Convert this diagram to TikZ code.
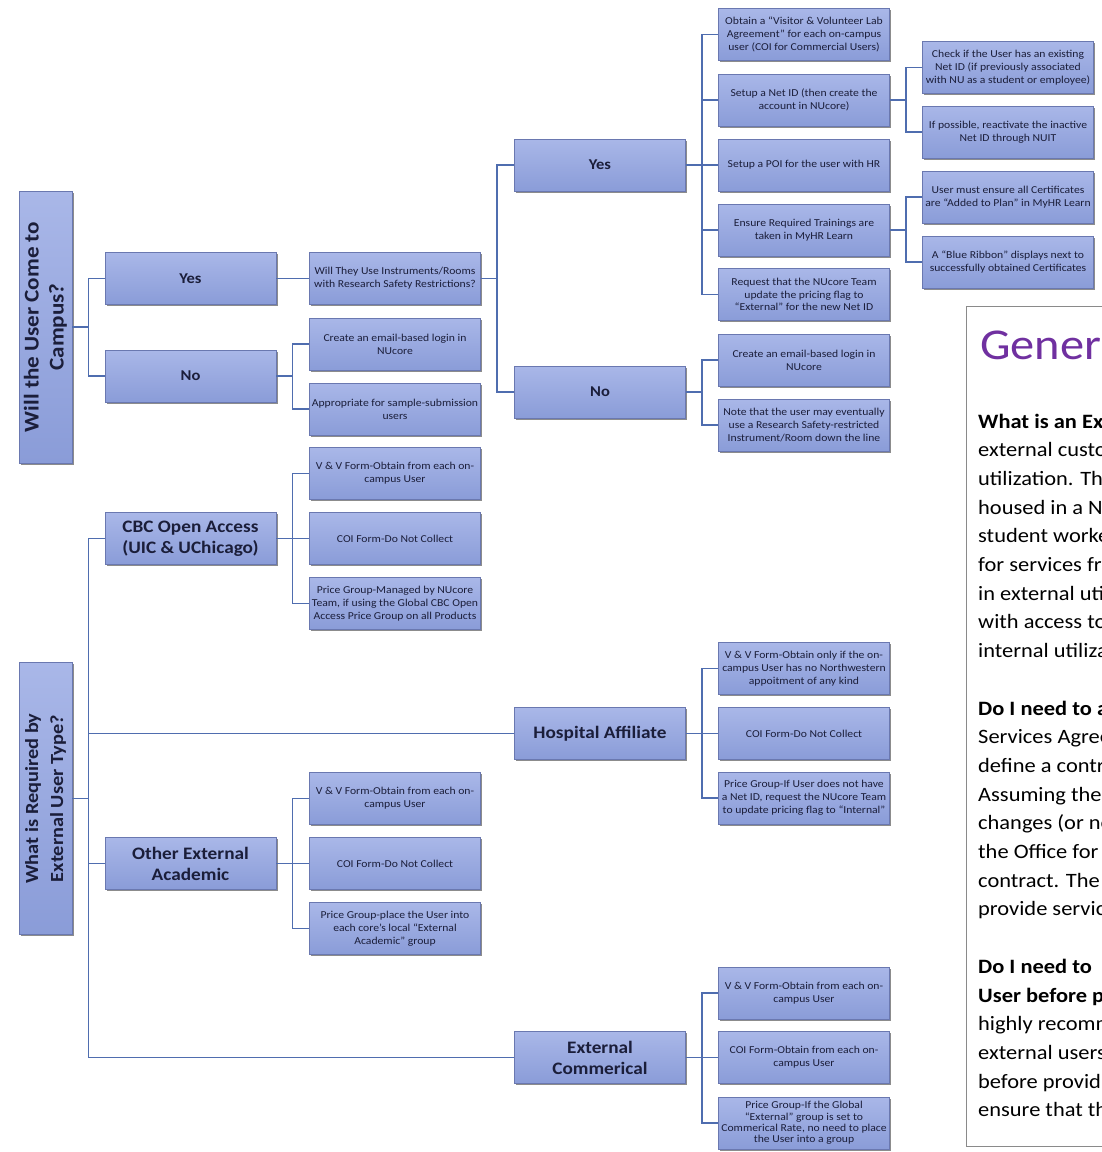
\documentclass[tikz,border=0pt]{standalone}
\usepackage{fontspec}
\setmainfont{Carlito}[FakeStretch=1.1]
\usetikzlibrary{shadows}
\definecolor{boxtop}{HTML}{A9B7E8}
\definecolor{boxbot}{HTML}{8A9CD8}
\definecolor{boxline}{HTML}{6A78B0}
\definecolor{conn}{HTML}{4F6DAF}
\definecolor{boxtext}{HTML}{1B1E3A}
\definecolor{titlepurple}{HTML}{7030A0}
\definecolor{panelline}{HTML}{8A8A8A}
\tikzset{
 bx/.style={draw=boxline, line width=0.8pt, top color=boxtop, bottom color=boxbot,
   minimum width=171pt, minimum height=52pt, inner sep=1pt, align=center, text=boxtext,
   drop shadow={shadow xshift=1.5pt, shadow yshift=-1.8pt, fill=black, opacity=0.45},
   font=\fontsize{10.6}{12.8}\selectfont},
 big/.style={bx, font=\bfseries\fontsize{17.5}{21}\selectfont},
 yn/.style={bx, font=\bfseries\fontsize{15}{18}\selectfont},
 root/.style={bx, minimum width=53pt, minimum height=272pt},
 cn/.style={draw=conn, line width=1.2pt},
 ptxt/.style={anchor=base west, inner sep=0pt, font=\fontsize{20.4}{24}\selectfont, text=black},
}
\newcommand\fork[2]{%
  \draw[cn] (#1.east) -- ++(16,0) coordinate (#1j);
  \foreach \c in {#2} {\draw[cn] (#1j) |- (\c.west);}
}
\begin{document}
\begin{tikzpicture}[x=1pt,y=-1pt]
\useasboundingbox (0,0) rectangle (1102,1152);
\fill[white] (0,0) rectangle (1102,1152);
\clip (0,0) rectangle (1102,1152);

% ---- top tree ----
\node[root] (r1) at (45.5,327) {\rotatebox{90}{\parbox{265pt}{\centering\bfseries\fontsize{21}{25}\selectfont Will the User Come to\\Campus?}}};
\node[yn] (y1) at (190.5,278.5) {Yes};
\node[yn] (n1) at (190.5,376) {No};
\node[bx] (q) at (395,278.5) {Will They Use Instruments/Rooms\\with Research Safety Restrictions?};
\node[bx] (nA) at (395,344) {Create an email-based login in\\NUcore};
\node[bx] (nB) at (395,409) {Appropriate for sample-submission\\users};
\node[yn] (y2) at (600,165) {Yes};
\node[yn] (n2) at (600,392) {No};
\node[bx] (ya) at (804,34.5) {Obtain a “Visitor \& Volunteer Lab\\Agreement” for each on-campus\\user (COI for Commercial Users)};
\node[bx] (yb) at (804,100) {Setup a Net ID (then create the\\account in NUcore)};
\node[bx] (yc) at (804,165) {Setup a POI for the user with HR};
\node[bx] (yd) at (804,230) {Ensure Required Trainings are\\taken in MyHR Learn};
\node[bx] (ye) at (804,294.5) {Request that the NUcore Team\\update the pricing flag to\\“External” for the new Net ID};
\node[bx] (na2) at (804,360) {Create an email-based login in\\NUcore};
\node[bx] (nb2) at (804,425) {Note that the user may eventually\\use a Research Safety-restricted\\Instrument/Room down the line};
\node[bx] (yb1) at (1008,67.5) {Check if the User has an existing\\Net ID (if previously associated\\with NU as a student or employee)};
\node[bx] (yb2) at (1008,132) {If possible, reactivate the inactive\\Net ID through NUIT};
\node[bx] (yd1) at (1008,197) {User must ensure all Certificates\\are “Added to Plan” in MyHR Learn};
\node[bx] (yd2) at (1008,262) {A “Blue Ribbon” displays next to\\successfully obtained Certificates};

\fork{r1}{y1,n1}
\fork{y1}{q}
\fork{n1}{nA,nB}
\fork{q}{y2,n2}
\fork{y2}{ya,yb,yc,yd,ye}
\fork{n2}{na2,nb2}
\fork{yb}{yb1,yb2}
\fork{yd}{yd1,yd2}

% ---- bottom tree ----
\node[root] (r2) at (45.5,798.5) {\rotatebox{90}{\parbox{265pt}{\centering\bfseries\fontsize{18.5}{25}\selectfont What is Required by\\External User Type?}}};
\node[big] (cbc) at (190.5,538.5) {CBC Open Access\\(UIC \& UChicago)};
\node[bx] (cbc1) at (395,473.5) {V \& V Form-Obtain from each on-\\campus User};
\node[bx] (cbc2) at (395,538.5) {COI Form-Do Not Collect};
\node[bx] (cbc3) at (395,603.5) {Price Group-Managed by NUcore\\Team, if using the Global CBC Open\\Access Price Group on all Products};
\node[big] (hosp) at (600,733.5) {Hospital Affiliate};
\node[bx] (h1) at (804,668.5) {V \& V Form-Obtain only if the on-\\campus User has no Northwestern\\appoitment of any kind};
\node[bx] (h2) at (804,733.5) {COI Form-Do Not Collect};
\node[bx] (h3) at (804,798) {Price Group-If User does not have\\a Net ID, request the NUcore Team\\to update pricing flag to “Internal”};
\node[big] (oth) at (190.5,863.5) {Other External\\Academic};
\node[bx] (o1) at (395,798.5) {V \& V Form-Obtain from each on-\\campus User};
\node[bx] (o2) at (395,863.5) {COI Form-Do Not Collect};
\node[bx] (o3) at (395,928.5) {Price Group-place the User into\\each core’s local “External\\Academic” group};
\node[big] (ext) at (600,1057.5) {External\\Commerical};
\node[bx] (e1) at (804,993) {V \& V Form-Obtain from each on-\\campus User};
\node[bx] (e2) at (804,1057.5) {COI Form-Obtain from each on-\\campus User};
\node[bx, font=\fontsize{10.6}{11.4}\selectfont] (e3) at (804,1123) {Price Group-If the Global\\“External” group is set to\\Commerical Rate, no need to place\\the User into a group};

\fork{r2}{cbc,hosp,oth,ext}
\fork{cbc}{cbc1,cbc2,cbc3}
\fork{hosp}{h1,h2,h3}
\fork{oth}{o1,o2,o3}
\fork{ext}{e1,e2,e3}

% ---- side panel (cut off by the picture's right edge) ----
\node[draw=panelline, line width=1.4pt, fill=white, anchor=north west, minimum width=160pt, minimum height=840pt, inner sep=0pt] (panel) at (966,306) {};
\node[anchor=base west, inner sep=0pt, font=\fontsize{44}{50}\selectfont, text=titlepurple] (title) at (980,359) {General};
\foreach \t [count=\i from 0] in {%
 {\bfseries What is an Ext}, external custo, utilization. Th, housed in a NU, student worke,
 for services fro, in external uti, with access to, internal utiliza, {},
 {\bfseries Do I need to a}, Services Agree, define a contr, Assuming the, changes (or no,
 the Office for, contract. The, provide servic, {},
 {\bfseries Do I need to}, {\bfseries User before pr}, highly recomm, external users,
 before provid, ensure that th}
 {\node[ptxt] (p\i) at (978,{428+\i*28.7}) {\t};}
\end{tikzpicture}
\end{document}
